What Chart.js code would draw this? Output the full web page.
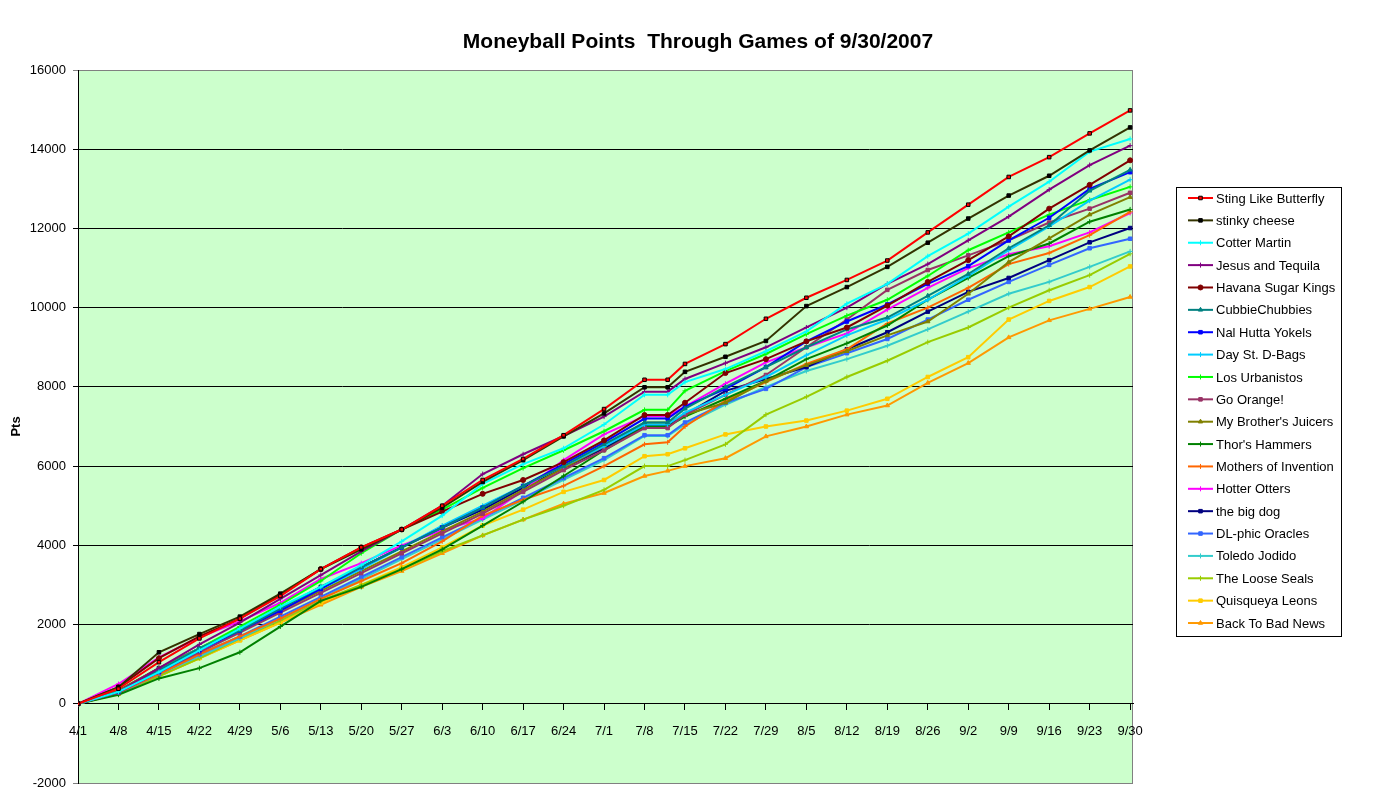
<!DOCTYPE html>
<html lang="en">
<head>
<meta charset="UTF-8">
<title>Moneyball Points Through Games of 9/30/2007</title>
<style>
  html, body { margin: 0; padding: 0; background: #fff; }
  canvas { display: block; }
</style>
</head>
<body>
<canvas id="chart" width="1396" height="801"></canvas>

<script src="https://cdn.jsdelivr.net/npm/chart.js"></script>
<script>
// days since 4/1 (one reading per week, plus one at the all-star break)
const days = [0, 7, 14, 21, 28, 35, 42, 49, 56, 63, 70, 77, 84, 91, 98, 102, 105, 112, 119, 126, 133, 140, 147, 154, 161, 168, 175, 182];
const tickLabels = ['4/1', '4/8', '4/15', '4/22', '4/29', '5/6', '5/13', '5/20', '5/27', '6/3', '6/10', '6/17', '6/24',
  '7/1', '7/8', '7/15', '7/22', '7/29', '8/5', '8/12', '8/19', '8/26', '9/2', '9/9', '9/16', '9/23', '9/30'];

const stingLikeButterfly = [0, 380, 1050, 1650, 2150, 2720, 3400, 3950, 4400, 5000, 5650, 6180, 6780, 7440, 8180, 8180, 8580, 9080, 9720, 10250, 10700, 11190, 11900, 12600, 13300, 13800, 14400, 14980];
const stinkyCheese = [0, 420, 1300, 1760, 2200, 2780, 3400, 3900, 4400, 4950, 5600, 6150, 6750, 7330, 7990, 7990, 8380, 8760, 9160, 10040, 10520, 11030, 11640, 12250, 12830, 13330, 13970, 14550];
const cotterMartin = [0, 300, 800, 1350, 1900, 2450, 2950, 3500, 4100, 4750, 5550, 6050, 6450, 7050, 7800, 7800, 8120, 8450, 8900, 9400, 10100, 10600, 11300, 11870, 12550, 13180, 13940, 14260];
const jesusAndTequila = [0, 300, 900, 1500, 2050, 2650, 3250, 3850, 4400, 5000, 5800, 6300, 6760, 7250, 7880, 7880, 8200, 8600, 9000, 9500, 10000, 10600, 11100, 11700, 12300, 12980, 13600, 14090];
const havanaSugarKings = [0, 420, 1150, 1700, 2150, 2750, 3400, 3950, 4400, 4850, 5300, 5650, 6100, 6650, 7290, 7290, 7600, 8350, 8700, 9150, 9500, 10050, 10650, 11200, 11800, 12500, 13100, 13720];
const cubbieChubbies = [0, 300, 850, 1400, 1850, 2400, 2950, 3450, 3950, 4450, 4950, 5500, 6000, 6550, 7100, 7100, 7450, 8000, 8500, 9000, 9450, 9750, 10300, 10850, 11500, 12080, 12950, 13480];
const nalHuttaYokels = [0, 300, 800, 1350, 1850, 2350, 2900, 3450, 3950, 4450, 4950, 5500, 6050, 6600, 7200, 7200, 7500, 7950, 8500, 9150, 9650, 10080, 10600, 11050, 11700, 12270, 13000, 13420];
const dayStDBags = [0, 300, 850, 1400, 1850, 2400, 2900, 3400, 3950, 4500, 5000, 5500, 6000, 6500, 7050, 7050, 7350, 7800, 8250, 8800, 9300, 9700, 10200, 10800, 11450, 12050, 12700, 13230];
const losUrbanistos = [0, 300, 850, 1400, 1950, 2500, 3100, 3800, 4400, 4900, 5450, 5950, 6400, 6880, 7420, 7420, 7900, 8400, 8830, 9330, 9800, 10200, 10800, 11450, 11900, 12350, 12720, 13050];
const goOrange = [0, 280, 800, 1300, 1800, 2300, 2800, 3300, 3800, 4300, 4800, 5350, 5900, 6400, 6960, 6960, 7300, 7800, 8300, 9000, 9700, 10450, 10950, 11320, 11700, 12150, 12500, 12900];
const myBrothersJuicers = [0, 330, 900, 1400, 1850, 2350, 2850, 3350, 3850, 4350, 4850, 5400, 5950, 6500, 7100, 7100, 7300, 7600, 8150, 8550, 8900, 9300, 9650, 10350, 11150, 11750, 12350, 12790];
const thorsHammers = [0, 230, 640, 900, 1300, 1950, 2600, 2950, 3400, 3900, 4500, 5100, 5750, 6400, 7000, 7000, 7250, 7700, 8150, 8700, 9100, 9550, 10200, 10750, 11300, 11620, 12170, 12480];
const mothersOfInvention = [0, 280, 750, 1250, 1700, 2150, 2650, 3100, 3550, 4100, 4750, 5150, 5500, 6000, 6550, 6600, 7000, 7650, 8120, 8580, 8950, 9600, 10000, 10500, 11100, 11380, 11830, 12420];
const hotterOtters = [0, 500, 1170, 1680, 2080, 2550, 3150, 3550, 4000, 4380, 4680, 5380, 6150, 6800, 7260, 7260, 7500, 8080, 8620, 9000, 9350, 9950, 10500, 11000, 11350, 11550, 11900, 12390];
const theBigDog = [0, 330, 900, 1400, 1900, 2400, 2950, 3450, 3950, 4450, 4900, 5450, 5950, 6450, 7020, 7020, 7300, 7900, 8200, 8500, 8950, 9380, 9900, 10400, 10750, 11200, 11650, 12010];
const dlPhicOracles = [0, 270, 750, 1250, 1700, 2200, 2700, 3200, 3700, 4200, 4700, 5200, 5700, 6200, 6780, 6780, 7100, 7600, 7950, 8500, 8850, 9210, 9700, 10200, 10650, 11080, 11500, 11740];
const toledoJodido = [0, 260, 750, 1200, 1650, 2150, 2650, 3150, 3650, 4150, 4650, 5150, 5650, 6150, 6760, 6760, 7050, 7550, 8000, 8400, 8700, 9040, 9450, 9900, 10350, 10650, 11030, 11420];
const theLooseSeals = [0, 250, 700, 1150, 1650, 2100, 2600, 3000, 3400, 3850, 4250, 4650, 5000, 5400, 6000, 6000, 6150, 6550, 7300, 7750, 8250, 8660, 9130, 9500, 10000, 10440, 10820, 11360];
const quisqueyaLeons = [0, 250, 700, 1150, 1600, 2050, 2550, 3000, 3450, 3950, 4500, 4900, 5350, 5650, 6250, 6300, 6450, 6800, 7000, 7150, 7400, 7700, 8250, 8750, 9700, 10170, 10520, 11040];
const backToBadNews = [0, 250, 700, 1150, 1600, 2050, 2500, 2950, 3350, 3800, 4250, 4650, 5050, 5320, 5750, 5880, 6000, 6200, 6750, 7000, 7300, 7530, 8100, 8600, 9250, 9680, 9970, 10270];

const teams = [
  { name: 'Sting Like Butterfly', data: stingLikeButterfly, color: '#FF0000', marker: 'rect', edge: '#000000' },
  { name: 'stinky cheese', data: stinkyCheese, color: '#333300', marker: 'rect', fill: '#000000' },
  { name: 'Cotter Martin', data: cotterMartin, color: '#00FFFF', marker: 'cross' },
  { name: 'Jesus and Tequila', data: jesusAndTequila, color: '#800080', marker: 'cross' },
  { name: 'Havana Sugar Kings', data: havanaSugarKings, color: '#800000', marker: 'circle' },
  { name: 'CubbieChubbies', data: cubbieChubbies, color: '#008080', marker: 'triangle' },
  { name: 'Nal Hutta Yokels', data: nalHuttaYokels, color: '#0000FF', marker: 'rect' },
  { name: 'Day St. D-Bags', data: dayStDBags, color: '#00CCFF', marker: 'cross' },
  { name: 'Los Urbanistos', data: losUrbanistos, color: '#00FF00', marker: 'cross' },
  { name: 'Go Orange!', data: goOrange, color: '#993366', marker: 'rect' },
  { name: "My Brother's Juicers", data: myBrothersJuicers, color: '#808000', marker: 'triangle' },
  { name: "Thor's Hammers", data: thorsHammers, color: '#008000', marker: 'cross' },
  { name: 'Mothers of Invention', data: mothersOfInvention, color: '#FF6600', marker: 'cross' },
  { name: 'Hotter Otters', data: hotterOtters, color: '#FF00FF', marker: 'cross' },
  { name: 'the big dog', data: theBigDog, color: '#000080', marker: 'rect' },
  { name: 'DL-phic Oracles', data: dlPhicOracles, color: '#3366FF', marker: 'rect' },
  { name: 'Toledo Jodido', data: toledoJodido, color: '#33CCCC', marker: 'cross' },
  { name: 'The Loose Seals', data: theLooseSeals, color: '#99CC00', marker: 'cross' },
  { name: 'Quisqueya Leons', data: quisqueyaLeons, color: '#FFCC00', marker: 'rect' },
  { name: 'Back To Bad News', data: backToBadNews, color: '#FF9900', marker: 'triangle' }
];

const FONT = 'Arial, "Liberation Sans", sans-serif';
const TITLE = 'Moneyball Points  Through Games of 9/30/2007';

// plot background + grey frame, like the Excel plot area; title centred on the page
const plotArea = {
  id: 'plotArea',
  beforeDraw(chart) {
    const { ctx, chartArea: a } = chart;
    ctx.save();
    ctx.fillStyle = '#fff';
    ctx.fillRect(0, 0, chart.width, chart.height);
    ctx.fillStyle = '#CCFFCC';
    ctx.fillRect(a.left, a.top, a.right - a.left, a.bottom - a.top);
    ctx.strokeStyle = '#808080';
    ctx.lineWidth = 1;
    ctx.strokeRect(a.left + 0.5, a.top + 0.5, a.right - a.left - 1, a.bottom - a.top);
    ctx.fillStyle = '#000';
    ctx.font = 'bold 21px ' + FONT;
    ctx.textAlign = 'center';
    ctx.textBaseline = 'middle';
    ctx.fillText(TITLE, 698, 42);
    ctx.restore();
  }
};

// boxed legend on the right, line + marker samples
const boxLegend = {
  id: 'boxLegend',
  afterDraw(chart) {
    const ctx = chart.ctx;
    const x0 = 1176, y0 = 187, w = 165, h = 449;
    const step = 22.37;
    ctx.save();
    ctx.fillStyle = '#fff';
    ctx.fillRect(x0, y0, w, h);
    ctx.strokeStyle = '#000';
    ctx.lineWidth = 1;
    ctx.strokeRect(x0 + 0.5, y0 + 0.5, w, h);
    ctx.font = '13px ' + FONT;
    ctx.textBaseline = 'middle';
    chart.data.datasets.forEach((ds, i) => {
      const y = y0 + 11 + i * step;
      ctx.strokeStyle = ds.borderColor;
      ctx.lineWidth = 2;
      ctx.beginPath();
      ctx.moveTo(x0 + 12, y);
      ctx.lineTo(x0 + 37, y);
      ctx.stroke();
      ctx.fillStyle = ds.pointBackgroundColor;
      ctx.strokeStyle = ds.pointBorderColor;
      ctx.lineWidth = 1;
      Chart.helpers.drawPoint(ctx, { pointStyle: ds.pointStyle, radius: 2.5, rotation: 0, borderWidth: 1 }, x0 + 24.5, y);
      ctx.fillStyle = '#000';
      ctx.fillText(ds.label, x0 + 40, y + 1);
    });
    ctx.restore();
  }
};

new Chart(document.getElementById('chart'), {
  type: 'line',
  data: {
    datasets: teams.map(t => ({
      label: t.name,
      data: days.map((d, i) => ({ x: d, y: t.data[i] })),
      borderColor: t.color,
      backgroundColor: t.color,
      borderWidth: 2,
      pointStyle: t.marker,
      pointRadius: 2.5,
      pointBorderWidth: 1,
      pointBackgroundColor: t.fill || t.color,
      pointBorderColor: t.edge || t.fill || t.color,
      tension: 0
    }))
  },
  options: {
    responsive: false,
    animation: false,
    events: [],
    layout: { padding: { left: 0, right: 263, top: 70, bottom: 18 } },
    plugins: {
      legend: { display: false },
      tooltip: { enabled: false },
      title: { display: false }
    },
    scales: {
      x: {
        type: 'linear',
        position: { y: 0 },
        min: 0,
        max: 182.5,
        grid: { drawOnChartArea: false, drawTicks: true, tickLength: 6, color: '#000' },
        border: { display: true, color: '#000', width: 1 },
        ticks: {
          stepSize: 7,
          includeBounds: false,
          autoSkip: false,
          maxRotation: 0,
          padding: 14,
          color: '#000',
          font: { family: FONT, size: 13 },
          callback: v => tickLabels[Math.round(v / 7)]
        }
      },
      y: {
        min: -2000,
        max: 16000,
        afterFit: s => { s.width = 78; },
        ticks: {
          stepSize: 2000,
          padding: 7,
          color: '#000',
          font: { family: FONT, size: 13 },
          callback: v => String(v)
        },
        grid: {
          tickLength: 5,
          color: c => (c.tick && (c.tick.value === 16000 || c.tick.value === -2000)) ? '#808080' : '#000'
        },
        border: { color: '#000' },
        title: {
          display: true,
          text: 'Pts',
          color: '#000',
          font: { family: FONT, size: 13, weight: 'bold' },
          padding: { top: 9, bottom: 0 }
        }
      }
    }
  },
  plugins: [plotArea, boxLegend]
});
</script>
</body>
</html>
